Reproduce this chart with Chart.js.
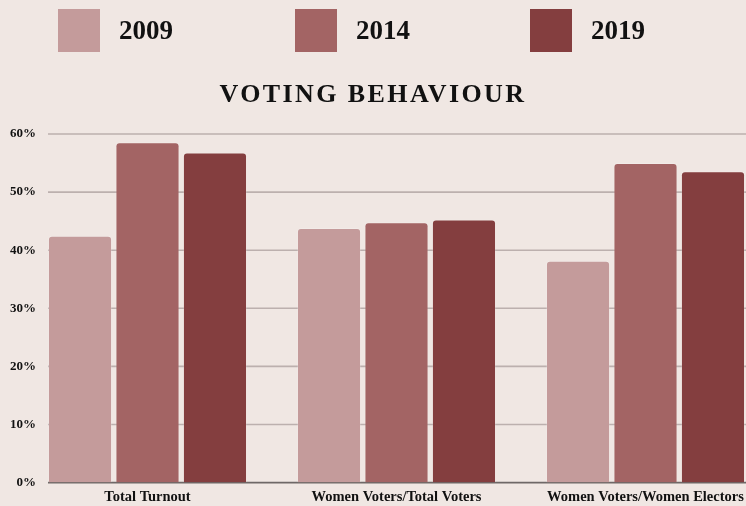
<!DOCTYPE html>
<html>
<head>
<meta charset="utf-8">
<script src="https://cdn.jsdelivr.net/npm/chart.js@4/dist/chart.umd.min.js"></script>
<style>
  html, body { margin: 0; padding: 0; background: #f0e7e3; overflow: hidden; }
  #wrap { position: relative; width: 746px; height: 506px; overflow: hidden; }
  #box { position: absolute; left: 0; top: 0; width: 770px; height: 506px; }
  #legend { position: absolute; left: 0; top: 0; width: 746px; height: 60px; }
  .item { position: absolute; top: 9px; height: 43px; display: flex; align-items: center; }
  .swatch { width: 42px; height: 43px; margin-right: 19px; }
  .lbl { font-family: "Liberation Serif", serif; font-weight: bold; font-size: 27px; color: #111; }
  #title { position: absolute; left: 0; width: 746px; top: 79px; text-align: center;
           font-family: "Liberation Serif", serif; font-weight: bold; font-size: 26px;
           letter-spacing: 2.4px; color: #111; }
</style>
</head>
<body>
<div id="wrap">
  <div id="box"><canvas id="c"></canvas></div>
  <div id="legend"></div>
  <div id="title">VOTING BEHAVIOUR</div>
</div>
<script>
// Voting behaviour, percent
const categories = ["Total Turnout", "Women Voters/Total Voters", "Women Voters/Women Electors"];
const years = ["2009", "2014", "2019"];
const values2009 = [42.5, 43.8, 38.2];
const values2014 = [58.6, 44.8, 55.0];
const values2019 = [56.8, 45.3, 53.6];
const yTicks = [0, 10, 20, 30, 40, 50, 60];

const colors = ["#c49b9b", "#a36464", "#843e3f"];
const series = [values2009, values2014, values2019];
const serif = "'Liberation Serif', serif";

// HTML legend built from the series list
const legendEl = document.getElementById("legend");
const legendLeft = [58, 295, 530];
years.forEach((y, i) => {
  const it = document.createElement("div");
  it.className = "item";
  it.style.left = legendLeft[i] + "px";
  it.innerHTML = '<div class="swatch" style="background:' + colors[i] + '"></div><span class="lbl">' + y + '</span>';
  legendEl.appendChild(it);
});

// value axis: grid lines starting right of the labels, plus the % labels
const valueAxis = {
  id: "valueAxis",
  beforeDatasetsDraw(chart) {
    const ctx = chart.ctx, ys = chart.scales.y, area = chart.chartArea;
    ctx.save();
    yTicks.forEach(v => {
      const py = ys.getPixelForValue(v);
      ctx.beginPath();
      ctx.lineWidth = 1.6;
      ctx.strokeStyle = v === 0 ? "#6e6867" : "#bcb0ae";
      ctx.moveTo(48, py);
      ctx.lineTo(area.right, py);
      ctx.stroke();
      ctx.fillStyle = "#111";
      ctx.font = "bold 13px " + serif;
      ctx.textAlign = "right";
      ctx.textBaseline = "middle";
      ctx.fillText(v + "%", 36, py);
    });
    ctx.restore();
  }
};

new Chart(document.getElementById("c"), {
  type: "bar",
  data: {
    labels: categories,
    datasets: years.map((y, i) => ({
      label: y,
      data: series[i],
      backgroundColor: colors[i],
      borderColor: "rgba(255,255,255,0.18)",
      borderWidth: 1,
      borderSkipped: "bottom",
      borderRadius: { topLeft: 4, topRight: 4 },
      barPercentage: 0.95,
      categoryPercentage: 0.813
    }))
  },
  options: {
    responsive: true,
    maintainAspectRatio: false,
    animation: false,
    layout: { padding: { top: 134, right: 0, left: 0, bottom: -6 } },
    plugins: {
      legend: { display: false },
      title: { display: false },
      tooltip: { enabled: false }
    },
    scales: {
      x: {
        grid: { display: false, drawTicks: false },
        border: { display: false },
        ticks: {
          color: "#111",
          padding: 6,
          maxRotation: 0,
          autoSkip: false,
          font: { family: serif, weight: "bold", size: 14.5 }
        }
      },
      y: {
        min: 0,
        max: 60,
        afterFit(scale) { scale.width = 23; },
        grid: { display: false, drawTicks: false },
        border: { display: false },
        ticks: { display: false, stepSize: 10 }
      }
    }
  },
  plugins: [valueAxis]
});
</script>
</body>
</html>
